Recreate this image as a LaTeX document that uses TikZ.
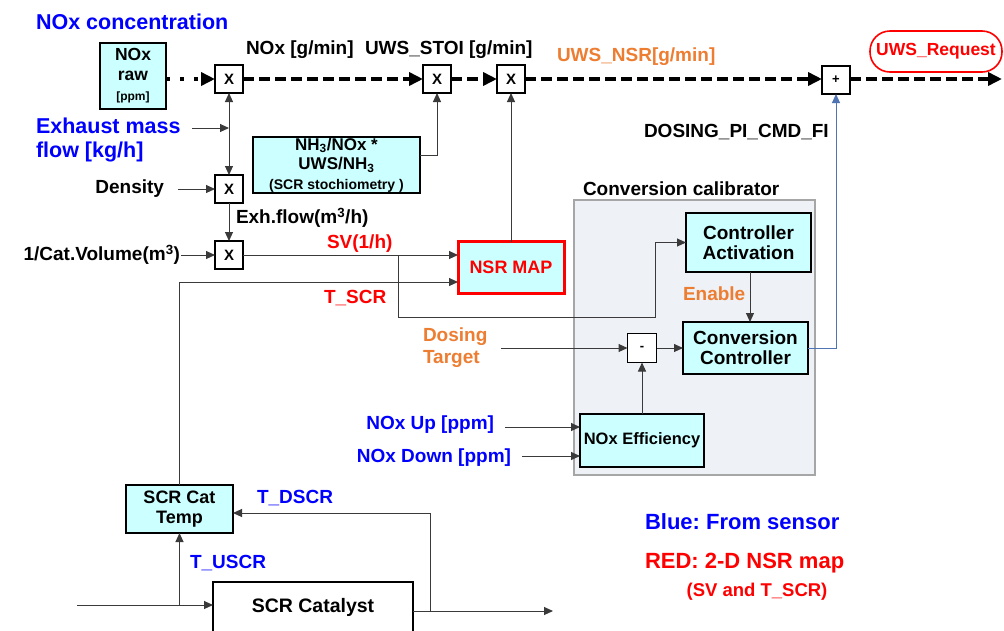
\documentclass[tikz,border=0pt]{standalone}
\usepackage{fontspec}
\setmainfont{Liberation Sans}
\usetikzlibrary{arrows.meta,calc}
\definecolor{cyanfill}{HTML}{CCFFFF}
\definecolor{sblue}{HTML}{0000FF}
\definecolor{sred}{HTML}{FF0000}
\definecolor{sorange}{HTML}{ED7D31}
\definecolor{calfill}{HTML}{EEF1F6}
\definecolor{calline}{HTML}{A6A6A6}
\definecolor{pidblue}{HTML}{4F74B3}
\definecolor{linegray}{HTML}{3A3A3A}
\newcommand\fs[2]{\fontsize{#1}{#2}\selectfont}
\frenchspacing
\begin{document}
\begin{tikzpicture}[x=1pt,y=-1pt,
  every node/.style={inner sep=0pt, outer sep=0pt},
  lbl/.style={font=\bfseries\fs{19}{22}},
  blk/.style={draw=black, line width=1.3pt, fill=cyanfill, align=center, font=\bfseries\fs{19}{20}},
  mult/.style={draw=black, line width=1.3pt, fill=white, minimum width=28pt, minimum height=28pt, font=\bfseries\fs{15}{15}},
  conn/.style={line width=1pt, draw=linegray},
  arr/.style={conn, -{Triangle[length=9pt,width=8pt]}},
  dasharr/.style={line width=3.5pt, dash pattern=on 11pt off 5pt, -{Triangle[length=14pt,width=13pt]}},
  dotarr/.style={line width=4pt, dash pattern=on 4pt off 10pt, -{Triangle[length=14pt,width=13pt]}}
]
\fill[white] (0,0) rectangle (1004,630);
\useasboundingbox (0,0) rectangle (1004,630);

% ---- container
\node[draw=calline, fill=calfill, line width=1.3pt, minimum width=241pt, minimum height=275pt] (cal) at (694.5,337.5) {};
\node[lbl, anchor=west] (calt) at (583,189) {Conversion calibrator};

% ---- blocks
\node[blk, minimum width=66pt, minimum height=66pt, font=\bfseries\fs{17.5}{20}] (nox) at (133,76) {NOx\\raw\\{\fs{12}{14}[ppm]}};
\node[mult] (x1) at (229,79) {X};
\node[mult] (x2) at (437,79) {X};
\node[mult] (x3) at (511,79) {X};
\node[mult, font=\bfseries\fs{13}{13}] (plus) at (836,80) {+};
\node[mult] (xd) at (229,189) {X};
\node[mult] (xv) at (229,255) {X};
\node[blk, minimum width=167pt, minimum height=56pt, font=\bfseries\fs{17}{19.5}] (nh3) at (336.5,165) {NH\textsubscript{3}/NOx *\\UWS/NH\textsubscript{3}\\{\fs{14}{16}(SCR stochiometry )}};
\node[blk, draw=sred, line width=3pt, text=sred, minimum width=106pt, minimum height=52pt, font=\bfseries\fs{18}{20}] (nsr) at (511,267.5) {NSR MAP};
\node[blk, minimum width=125pt, minimum height=59pt] (ca) at (748.5,242.5) {Controller\\Activation};
\node[blk, minimum width=125pt, minimum height=52pt] (cc) at (745.5,348) {Conversion\\Controller};
\node[mult, minimum width=29pt, minimum height=29pt, font=\bfseries\fs{13}{13}] (minus) at (642,348) {-};
\node[blk, minimum width=124pt, minimum height=53pt, font=\bfseries\fs{16.5}{18}] (eff) at (642,440.5) {NOx Efficiency};
\node[blk, minimum width=107pt, minimum height=48pt, font=\bfseries\fs{18}{20}] (temp) at (179.5,509) {SCR Cat\\Temp};
\node[draw=black, line width=1.3pt, fill=white, minimum width=200pt, minimum height=60pt, font=\bfseries\fs{19.5}{20}] (scat) at (313,612) {};
\node[font=\bfseries\fs{19.5}{20}] (scatt) at (313,607) {SCR Catalyst};
\node[draw=sred, line width=1.6pt, fill=white, rounded corners=20pt, minimum width=132pt, minimum height=41pt, text=sred, font=\bfseries\fs{17.5}{20}] (req) at (936,51.5) {UWS\_Request};

% ---- labels
\node[anchor=west, text=sblue, font=\bfseries\fs{21.5}{24}] (lconc) at (36,22) {NOx concentration};
\node[anchor=west, text=sblue, align=left, font=\bfseries\fs{21.5}{24}] (lexh) at (36,140) {Exhaust mass\\flow [kg/h]};
\node[lbl, anchor=west] (lgmin) at (246,50) {NOx [g/min]};
\node[lbl, anchor=west] (lstoi) at (365,50) {UWS\_STOI [g/min]};
\node[lbl, anchor=west, text=sorange] (lnsr) at (557,57) {UWS\_NSR[g/min]};
\node[lbl, anchor=west] (lpi) at (644,132) {DOSING\_PI\_CMD\_FI};
\node[lbl, anchor=east] (ldens) at (164,189) {Density};
\node[lbl, anchor=west] (lexhf) at (236,218) {Exh.flow(m\textsuperscript{3}/h)};
\node[lbl, anchor=east] (lvol) at (180,255) {1/Cat.Volume(m\textsuperscript{3})};
\node[lbl, anchor=west, text=sred] (lsv) at (327,244) {SV(1/h)};
\node[lbl, anchor=west, text=sred] (ltscr) at (324,298) {T\_SCR};
\node[lbl, anchor=west, text=sorange] (lena) at (683,294) {Enable};
\node[lbl, anchor=west, text=sorange, align=left] (ldos) at (423,348) {Dosing\\Target};
\node[lbl, anchor=east, text=sblue] (lup) at (494,425) {NOx Up [ppm]};
\node[lbl, anchor=east, text=sblue] (ldown) at (511,458) {NOx Down [ppm]};
\node[lbl, anchor=west, text=sblue] (ldscr) at (257,498) {T\_DSCR};
\node[lbl, anchor=west, text=sblue] (luscr) at (190,563) {T\_USCR};
\node[anchor=west, text=sblue, font=\bfseries\fs{22}{24}] (lleg1) at (645,522) {Blue: From sensor};
\node[anchor=west, text=sred, font=\bfseries\fs{22}{24}] (lleg2) at (645,563) {RED: 2-D NSR map};
\node[text=sred, font=\bfseries\fs{18.5}{20}] (lleg3) at (757,592) {(SV and T\_SCR)};

% ---- coordinates
\coordinate (emfin) at (192,128);
\coordinate (emf) at (229,128);
\coordinate (densin) at (178,189);
\coordinate (volin) at (181,255);
\coordinate (svb) at (398,255);
\coordinate (out) at (1002,79);
\coordinate (dosin) at (501,348);
\coordinate (upin) at (505,427);
\coordinate (downin) at (522,456);
\coordinate (gasin) at (77,605);
\coordinate (gasout) at (553,611);
\coordinate (dsb) at (430,611);

% ---- main dashed chain
\draw[dotarr] (nox.east |- x1) -- (x1.west);
\draw[dasharr] (x1.east) -- (x2.west);
\draw[dasharr] (x2.east) -- (x3.west);
\draw[dasharr] (x3.east) -- (plus.west |- x3);
\draw[dasharr] (plus.east |- x3) -- (out);

% ---- thin connectors
\draw[arr] (emfin) -- (emf);
\draw[arr] (emf) -- (x1.south);
\draw[arr] (emf) -- (xd.north);
\draw[arr] (densin) -- (xd.west);
\draw[arr] (xd.south) -- (xv.north);
\draw[arr] (volin) -- (xv.west);
\draw[arr] ([yshift=10pt]nh3.east) -| (x2.south);
\draw[arr] (xv.east) -- (nsr.west |- xv);
\draw[arr] (svb) -- (398,317) -- (655,317) |- (ca.west);
\draw[arr] (temp.north) |- ($(nsr.west)+(0,14.5)$);
\draw[arr] (nsr.north) -- (x3.south);
\draw[arr] (ca.south -| 750,0) -- (cc.north -| 750,0);
\draw[arr] (dosin) -- (minus.west);
\draw[arr] (minus.east) -- (cc.west);
\draw[arr] (eff.north) -- (minus.south);
\draw[arr] (upin) -- (eff.west |- upin);
\draw[arr] (downin) -- (eff.west |- downin);
\draw[line width=1pt, draw=pidblue, -{Triangle[length=9pt,width=8pt]}] (cc.east) -| (plus.south);
\draw[arr] (gasin) -- (scat.west |- gasin);
\draw[arr] (temp.south |- gasin) -- (temp.south);
\draw[arr] (scat.east |- gasout) -- (gasout);
\draw[arr] (dsb) |- ($(temp.east)+(0,4)$);
\end{tikzpicture}
\end{document}
